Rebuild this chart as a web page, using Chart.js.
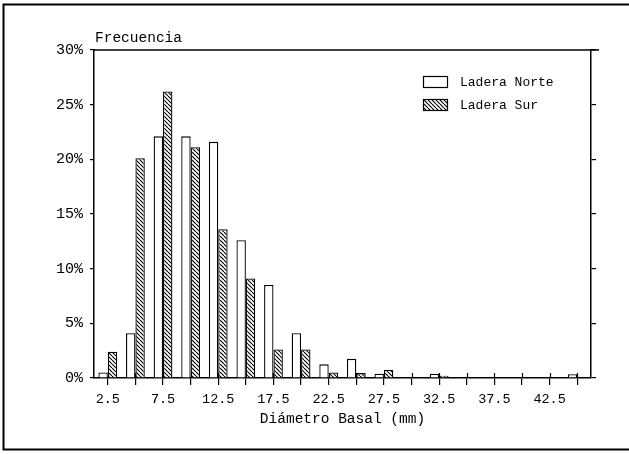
<!DOCTYPE html>
<html>
<head>
<meta charset="utf-8">
<script src="https://cdn.jsdelivr.net/npm/chart.js@4.4.1/dist/chart.umd.min.js"></script>
<style>
html,body{margin:0;padding:0;background:#fff;}
#wrap{width:629px;height:454px;position:relative;}
</style>
</head>
<body>
<div id="wrap"><canvas id="c" width="629" height="454"></canvas></div>
<script>
const categories = ['2.5','5','7.5','10','12.5','15','17.5','20','22.5','25','27.5','30','32.5','35','37.5','40','42.5','45'];
const xTickLabels = ['2.5','7.5','12.5','17.5','22.5','27.5','32.5','37.5','42.5'];
const laderaNorte = [0.5, 4.1, 22.1, 22.1, 21.6, 12.6, 8.5, 4.1, 1.25, 1.75, 0.4, 0, 0.4, 0, 0, 0, 0, 0.35];
const laderaSur   = [2.4, 20.1, 26.2, 21.1, 13.6, 9.1, 2.6, 2.6, 0.5, 0.45, 0.75, 0, 0.2, 0, 0, 0, 0, 0];
const seriesNames = ['Ladera Norte', 'Ladera Sur'];
const yTitle = 'Frecuencia';
const xTitle = 'Diámetro Basal (mm)';

const FONT = "'Liberation Mono', 'DejaVu Sans Mono', monospace";

function makeHatch() {
  const s = 4;
  const p = document.createElement('canvas');
  p.width = s; p.height = s;
  const g = p.getContext('2d');
  g.fillStyle = '#fff';
  g.fillRect(0, 0, s, s);
  g.strokeStyle = '#000';
  g.lineWidth = 1.1;
  g.beginPath();
  for (let k = -s; k <= s; k += s) {
    g.moveTo(k, 0);
    g.lineTo(k + s, s);
  }
  g.stroke();
  return document.getElementById('c').getContext('2d').createPattern(p, 'repeat');
}
const hatch = makeHatch();

const decor = {
  id: 'decor',
  beforeDraw(chart) {
    const ctx = chart.ctx;
    ctx.save();
    ctx.fillStyle = '#fff';
    ctx.fillRect(0, 0, chart.width, chart.height);
    ctx.strokeStyle = '#000';
    ctx.lineWidth = 2;
    ctx.strokeRect(3.5, 4.5, 640, 445);
    ctx.restore();
  },
  afterDraw(chart) {
    const ctx = chart.ctx;
    const a = chart.chartArea;
    const xs = chart.scales.x;
    ctx.save();
    ctx.strokeStyle = '#000';
    ctx.lineWidth = 1.5;
    ctx.beginPath();
    ctx.moveTo(a.left, a.top);
    ctx.lineTo(a.right + 8, a.top);
    ctx.stroke();
    ctx.lineWidth = 1.2;
    ctx.beginPath();
    xs.ticks.forEach((t, i) => {
      const px = Math.round(xs.getPixelForTick(i)) + 0.5;
      ctx.moveTo(px, a.bottom - 5);
      ctx.lineTo(px, a.bottom);
    });
    ctx.stroke();
    ctx.fillStyle = '#000';
    ctx.font = "14.5px " + FONT;
    ctx.textAlign = 'left';
    ctx.textBaseline = 'middle';
    ctx.fillText(yTitle, a.left + 1, a.top - 12);
    const bx = a.right - 168, by = a.top + 26;
    chart.data.datasets.forEach((ds, i) => {
      const y = by + i * 23;
      ctx.fillStyle = ds.backgroundColor;
      ctx.fillRect(bx, y, 25, 12);
      ctx.lineWidth = 1.2;
      ctx.strokeStyle = '#000';
      ctx.strokeRect(bx + 0.5, y + 0.5, 24, 11);
      ctx.fillStyle = '#000';
      ctx.font = "13px " + FONT;
      ctx.fillText(ds.label, bx + 37, y + 7);
    });
    ctx.restore();
  }
};

new Chart(document.getElementById('c'), {
  type: 'bar',
  data: {
    labels: categories,
    datasets: [
      { label: seriesNames[0], data: laderaNorte, backgroundColor: '#ffffff', borderColor: '#000', borderWidth: 1.3, categoryPercentage: 0.68, barPercentage: 1.0 },
      { label: seriesNames[1], data: laderaSur, backgroundColor: hatch, borderColor: '#000', borderWidth: 1.3, categoryPercentage: 0.68, barPercentage: 1.0 }
    ]
  },
  options: {
    responsive: false,
    animation: false,
    devicePixelRatio: 1,
    layout: { padding: { left: 0, top: 50, right: 30, bottom: 0 } },
    plugins: { legend: { display: false }, tooltip: { enabled: false }, title: { display: false } },
    scales: {
      x: {
        grid: { offset: false, drawOnChartArea: false, tickLength: 7, color: '#000', lineWidth: 1.2 },
        border: { display: true, color: '#000', width: 1.5 },
        ticks: {
          autoSkip: false, maxRotation: 0, color: '#000', padding: 6,
          font: { family: FONT, size: 13.5 },
          callback: function(v, i) { const l = this.getLabelForValue(v); return xTickLabels.includes(l) ? l : ''; }
        },
        title: { display: true, text: xTitle, color: '#000', font: { family: FONT, size: 14.5 }, padding: { top: 0, bottom: 26 } },
        afterFit(s) { s.height = 76; }
      },
      y: {
        min: 0, max: 30,
        grid: { drawOnChartArea: false, tickLength: 4, color: '#000', lineWidth: 1.2 },
        border: { display: true, color: '#000', width: 1.5 },
        ticks: { stepSize: 5, color: '#000', padding: 7, font: { family: FONT, size: 15 }, callback: v => v + '%' },
        afterFit(s) { s.width = 94; }
      },
      yR: {
        position: 'right',
        min: 0, max: 30,
        grid: { drawOnChartArea: false, tickLength: 5, color: '#000', lineWidth: 1.2 },
        border: { display: true, color: '#000', width: 1.5 },
        ticks: { display: false, stepSize: 5 },
        afterFit(s) { s.width = 8; }
      }
    }
  },
  plugins: [decor]
});
</script>
</body>
</html>
